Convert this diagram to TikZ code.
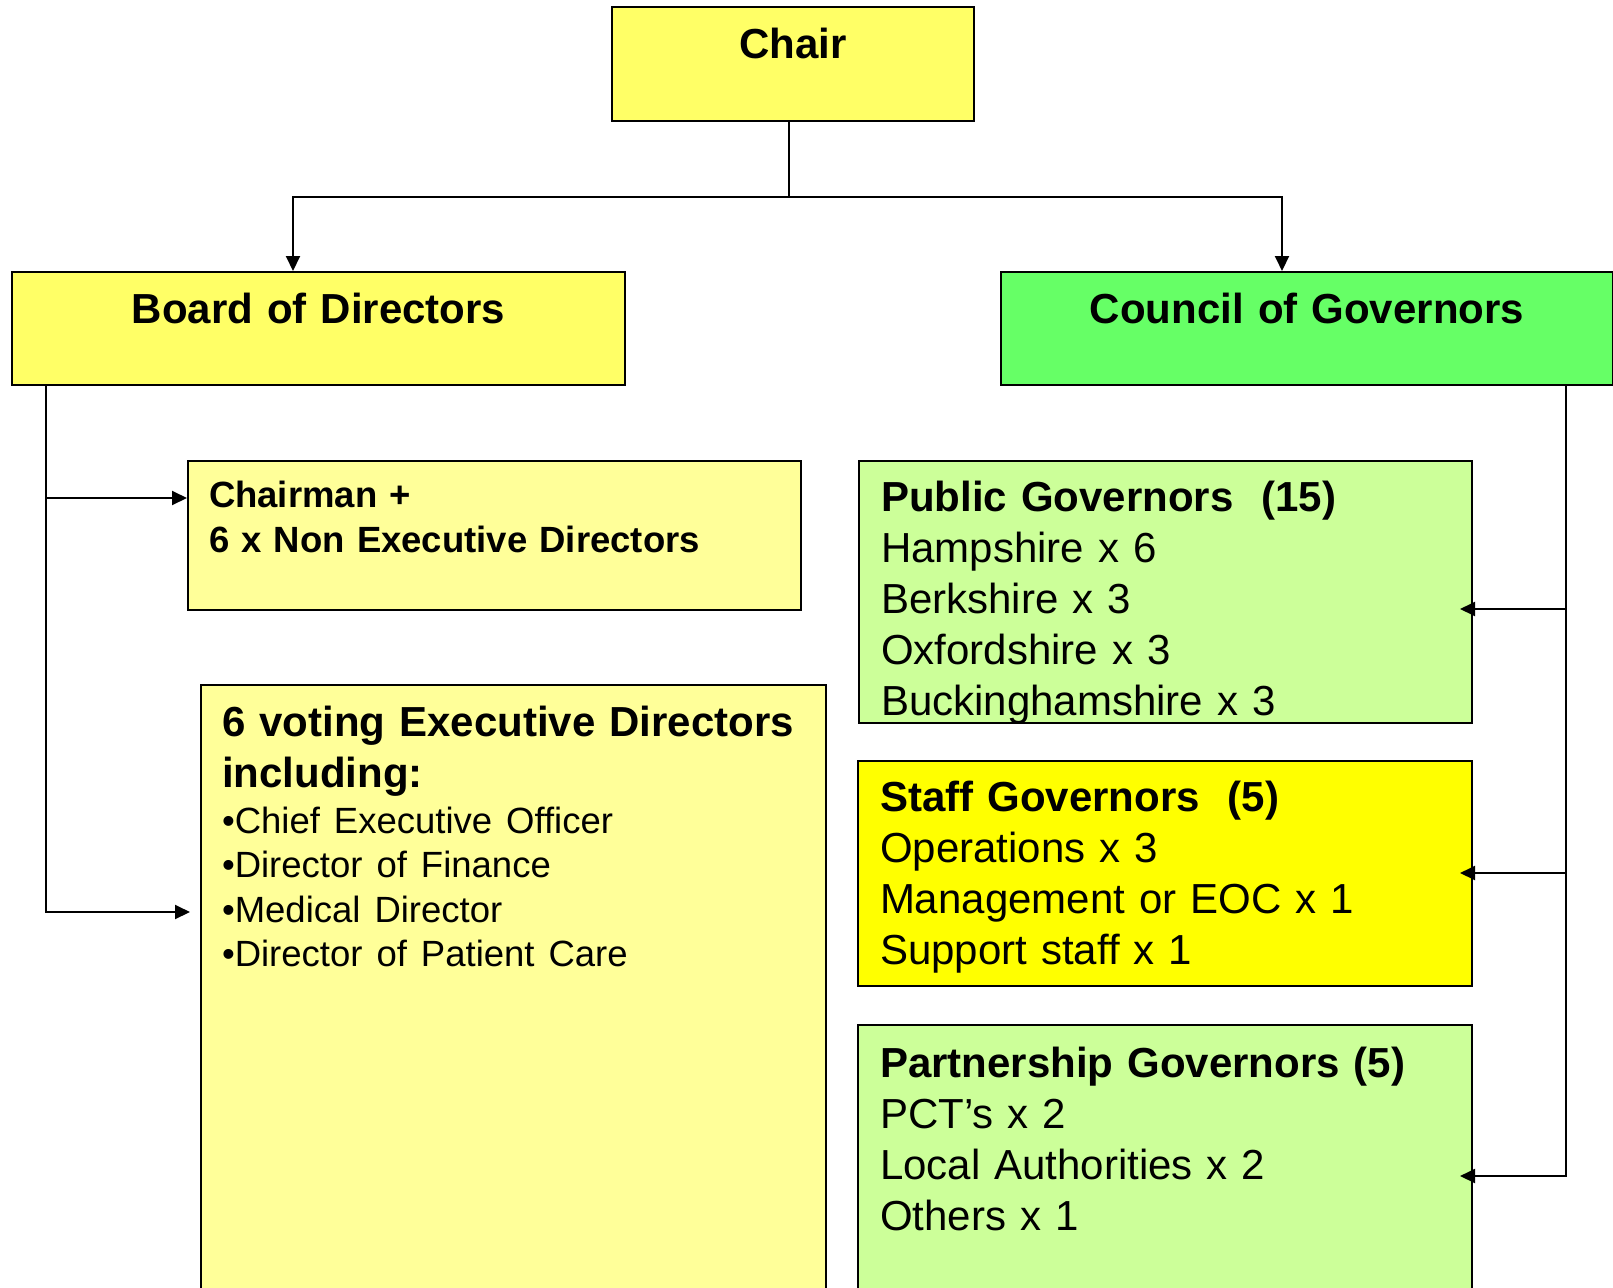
\documentclass[tikz,border=0pt]{standalone}
\usepackage{fontspec}
\setmainfont{Liberation Sans}
\usetikzlibrary{positioning, calc, arrows.meta}

\definecolor{chairyellow}{HTML}{FFFF66}
\definecolor{councilgreen}{HTML}{66FF66}
\definecolor{paleyellow}{HTML}{FFFF99}
\definecolor{palegreen}{HTML}{CCFF99}
\definecolor{staffyellow}{HTML}{FFFF00}

\tikzset{
  orgbox/.style = {draw, line width = 2pt, rectangle, anchor = north west,
    inner ysep = 0pt, inner xsep = 21pt, align = left,
    font = \fontsize{42}{51}\selectfont},
  headbox/.style = {orgbox, align = center,
    font = \fontsize{42}{51}\selectfont\bfseries},
  wire/.style = {line width = 2pt},
  arrow/.style = {wire, -{Triangle[length = 15pt, width = 14pt]}}
}

\begin{document}
\begin{tikzpicture}[x = 1pt, y = -1pt]
        \useasboundingbox (0,0) rectangle (1613,1287);
        % top row
        \node [headbox, fill = chairyellow, text width = 320pt,
        text height = 52pt, text depth = 62pt] (chair) at (611,6) {Chair};
        \node [headbox, fill = chairyellow, text width = 571pt,
        text height = 51pt, text depth = 62pt] (board) at (11,271)
        {Board of Directors};
        \node [headbox, fill = councilgreen, text width = 570pt,
        text height = 51pt, text depth = 62pt] (council) at (1000,271)
        {Council of Governors};
        % board side
        \node [orgbox, fill = paleyellow, text width = 571pt,
        font = \fontsize{36.5}{45}\selectfont\bfseries,
        text height = 46pt, text depth = 103pt] (chairman) at (187,460)
        {Chairman +\\6 x Non Executive Directors};
        \node [orgbox, fill = paleyellow, text width = 583pt,
        text height = 51pt, text depth = 565pt] (execdirs) at (200,684)
        {{\bfseries 6 voting Executive Directors\\including:\par}
        {\fontsize{36.5}{44.5}\selectfont\vspace{1.5pt}•Chief Executive Officer\\
        •Director of Finance\\•Medical Director\\
        •Director of Patient Care\par}};
        % council side
        \node [orgbox, fill = palegreen, inner xsep = 22pt, text width = 569pt,
        text height = 50pt, text depth = 212pt] (public) at (858,460)
        {\textbf{Public Governors~~(15)}\\Hampshire x 6\\Berkshire x 3\\
        Oxfordshire x 3\\Buckinghamshire x 3};
        \node [orgbox, fill = staffyellow, inner xsep = 22pt, text width = 570pt,
        text height = 50pt, text depth = 175pt] (staff) at (857,760)
        {\textbf{Staff Governors~~(5)}\\Operations x 3\\
        Management or EOC x 1\\Support staff x 1};
        \node [orgbox, fill = palegreen, inner xsep = 22pt, text width = 570pt,
        text height = 52pt, text depth = 224pt] (partner) at (857,1024)
        {\textbf{Partnership Governors (5)}\\PCT’s x 2\\
        Local Authorities x 2\\Others x 1};
        % connectors
        \draw [wire] ($(chair.south) + (-4,0)$) -- ++ (0,75) coordinate (split);
        \draw [arrow] (split) -| ($(board.north west) + (282,0)$);
        \draw [arrow] (split) -| ($(council.north west) + (282,0)$);
        \coordinate (btrunk) at ($(board.south west) + (35,0)$);
        \draw [arrow] (btrunk) |- ($(chairman.north west) + (0,38)$);
        \draw [arrow] (btrunk) |- ($(execdirs.north west) + (-10,228)$);
        \coordinate (ctrunk) at ($(council.south east) + (-48,0)$);
        \draw [arrow] (ctrunk) |- ($(public.north east) + (-13,149)$);
        \draw [arrow] (ctrunk) |- ($(staff.north east) + (-13,113)$);
        \draw [arrow] (ctrunk) |- ($(partner.north east) + (-13,152)$);
    \end{tikzpicture}
\end{document}
